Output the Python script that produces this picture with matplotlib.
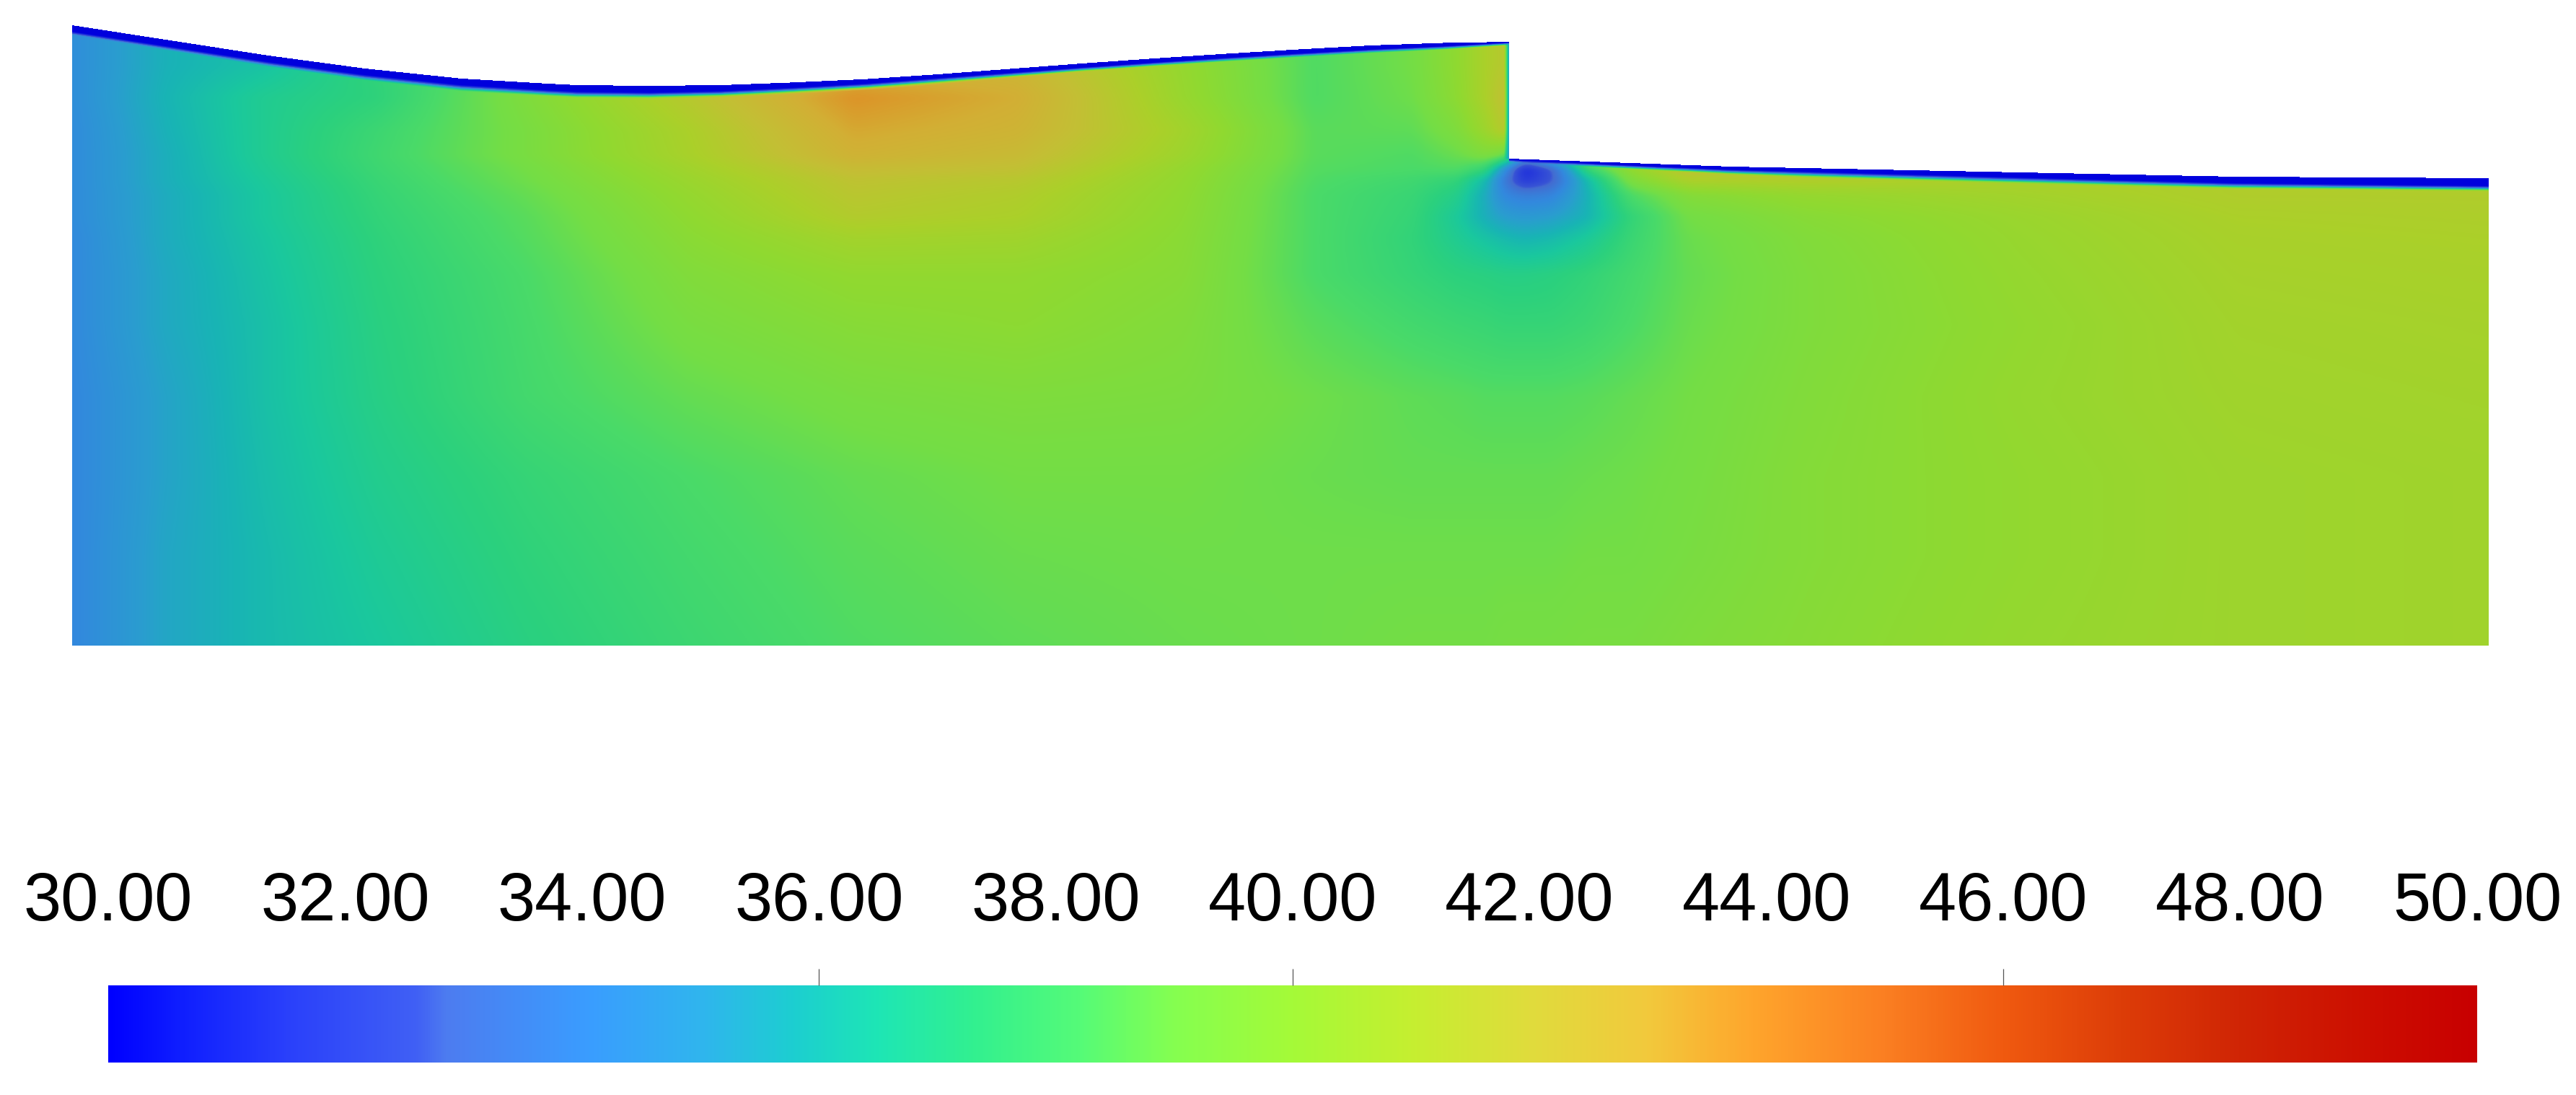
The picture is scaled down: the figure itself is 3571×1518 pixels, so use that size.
import numpy as np
import matplotlib
matplotlib.use("Agg")
import matplotlib.pyplot as plt
from matplotlib.colors import LinearSegmentedColormap, Normalize

plt.rcParams['font.family'] = ['Liberation Sans', 'DejaVu Sans']

W, H = 3571, 1518

# colour scale
scale_vals = [30, 30.6, 31.5, 32.6, 32.85, 34.05, 35, 35.8, 36.5, 37.3, 38.2, 39, 40, 41, 42, 43, 43.9, 45, 46, 47, 48, 49.2, 50]
scale_cols = ['#0000ff', '#0f1eff', '#2a40fb', '#4060f5', '#4d7cf0', '#3a9dff', '#30b5ee', '#1ccfd0', '#1ee6b5', '#32f090',
              '#55fb78', '#85ff50', '#a5fa38', '#c5ef30', '#e0dc3c', '#f2c93c', '#ffa52c', '#fb7f22', '#f05a10', '#dd3d08',
              '#d02505', '#cc0c00', '#c80000']
tick_labels = ['30.00', '32.00', '34.00', '36.00', '38.00', '40.00', '42.00', '44.00', '46.00', '48.00', '50.00']
tick_vals = [30, 32, 34, 36, 38, 40, 42, 44, 46, 48, 50]
minor_ticks = [36, 40, 46]

# top surface
surf_left_x = [100, 372, 506, 640, 760, 800, 900, 1000, 1100, 1200, 1300, 1500, 1600, 1700, 1800, 1900, 2000, 2092]
surf_left_y = [35, 77, 95, 109, 116, 118, 119, 118, 114.3, 109.7, 103, 88, 81, 74.5, 68.5, 63, 59.5, 58]
surf_right_x = [2092, 2400, 2500, 3000, 3100, 3450]
surf_right_y = [220, 231, 233, 243, 245, 247]
# wall layer
layer_left_x = [100, 640, 900, 1100, 1300, 1500, 1900, 2000, 2092]
layer_left_t = [8, 8, 8.5, 6.5, 4.5, 5, 5, 4, 0.5]
fade_left_w = [6, 10, 10, 10, 10, 7, 6, 6, 5]
layer_right_x = [2092, 2300, 2500, 2750, 3000, 3450]
layer_right_t = [1, 3, 4, 6, 7.5, 10]
fade_right_w = [4, 7, 10, 10, 10, 9]

# scalar field stations
st_x = [100, 228, 364, 524, 729, 956, 1184, 1412, 1640, 1822, 1958, 2020, 2060, 2085, 2113, 2150, 2200, 2260, 2340, 2500, 2800, 3100, 3450]
st_y = [30, 90, 135, 180, 215, 235, 250, 270, 300, 330, 380, 450, 550, 660, 770, 895]
row_030 = [34.3, 35.7, 36.3, 37.5, 39.0, 41.0, 42.5, 42.5, 39.8, 38.3, 39.0, 40.0, 41.0, 41.5, 41.5, 41.5, 41.5, 41.5, 41.5, 41.5, 41.5, 41.5, 41.5]
row_090 = [34.3, 35.7, 36.3, 37.5, 39.0, 41.0, 42.5, 42.5, 40.2, 38.3, 39.0, 40.0, 41.0, 41.5, 41.5, 41.5, 41.5, 41.5, 41.5, 41.5, 41.5, 41.5, 41.5]
row_135 = [34.3, 35.8, 36.8, 37.4, 39.4, 41.5, 43.8, 43.0, 40.3, 38.3, 38.9, 39.9, 41.0, 42.0, 41.5, 41.5, 41.5, 41.5, 41.5, 41.5, 41.5, 41.5, 41.5]
row_180 = [34.2, 35.7, 36.8, 37.8, 39.2, 41.0, 43.2, 42.7, 40.7, 38.5, 38.6, 39.4, 40.5, 41.5, 41.5, 41.5, 41.5, 41.5, 41.5, 41.5, 41.5, 41.5, 41.5]
row_215 = [34.2, 35.6, 36.8, 37.9, 39.2, 40.9, 42.8, 42.3, 40.5, 38.5, 38.3, 38.8, 39.4, 39.0, 35.0, 37.0, 39.5, 40.8, 41.8, 42.0, 41.3, 41.3, 41.3]
row_235 = [34.2, 35.6, 36.7, 37.8, 39.0, 40.6, 42.2, 41.9, 40.2, 38.4, 38.2, 38.3, 37.5, 34.5, 31.0, 32.5, 37.5, 40.0, 41.9, 41.6, 41.0, 41.5, 41.8]
row_250 = [34.2, 35.6, 36.6, 37.7, 38.9, 40.4, 41.8, 41.5, 40.1, 38.3, 37.9, 37.5, 36.0, 33.5, 31.5, 32.5, 36.0, 39.3, 41.0, 41.2, 41.0, 41.2, 41.3]
row_270 = [34.2, 35.5, 36.5, 37.6, 38.7, 40.2, 41.6, 41.2, 40.0, 38.2, 37.7, 37.0, 35.5, 34.0, 33.6, 33.8, 35.7, 38.2, 39.6, 40.2, 40.7, 41.2, 41.2]
row_300 = [34.2, 35.5, 36.5, 37.5, 38.5, 40.0, 41.3, 41.0, 39.9, 38.2, 37.6, 36.6, 35.6, 35.0, 34.8, 35.0, 35.8, 37.5, 39.0, 39.7, 40.4, 41.0, 41.1]
row_330 = [34.1, 35.5, 36.4, 37.4, 38.4, 39.8, 40.7, 40.6, 39.8, 38.2, 37.5, 36.8, 36.3, 36.0, 35.8, 36.0, 36.6, 37.7, 38.8, 39.5, 40.3, 40.9, 41.0]
row_380 = [34.1, 35.4, 36.3, 37.3, 38.2, 39.5, 40.1, 40.1, 39.7, 38.2, 37.6, 37.3, 37.2, 37.1, 37.1, 37.2, 37.5, 38.0, 38.7, 39.4, 40.2, 40.8, 40.9]
row_450 = [34.1, 35.4, 36.2, 37.2, 38.1, 39.2, 39.7, 39.9, 39.5, 38.5, 38.0, 37.8, 37.7, 37.6, 37.6, 37.6, 37.8, 38.2, 38.8, 39.4, 40.1, 40.7, 40.8]
row_550 = [34.0, 35.2, 36.2, 37.1, 38.0, 38.7, 39.2, 39.4, 39.3, 38.9, 38.6, 38.5, 38.4, 38.4, 38.4, 38.4, 38.5, 38.7, 39.0, 39.5, 40.2, 40.6, 40.7]
row_660 = [34.0, 35.2, 36.1, 36.9, 37.6, 38.2, 38.7, 39.0, 39.0, 38.8, 38.7, 38.7, 38.7, 38.7, 38.7, 38.7, 38.8, 38.9, 39.1, 39.6, 40.1, 40.5, 40.6]
row_770 = [34.0, 35.3, 36.0, 36.7, 37.4, 38.0, 38.5, 38.8, 38.9, 38.9, 38.9, 38.9, 38.9, 38.9, 38.9, 38.9, 39.0, 39.0, 39.2, 39.6, 40.1, 40.5, 40.6]
row_895 = [34.0, 35.3, 36.0, 36.5, 37.2, 37.8, 38.3, 38.6, 38.8, 38.9, 39.0, 39.0, 39.0, 39.1, 39.1, 39.1, 39.2, 39.2, 39.4, 39.7, 40.2, 40.5, 40.6]
field_rows = [row_030, row_090, row_135, row_180, row_215, row_235, row_250, row_270, row_300, row_330, row_380, row_450, row_550, row_660, row_770, row_895]

VMIN, VMAX = scale_vals[0], scale_vals[-1]
pos = [(v - VMIN) / (VMAX - VMIN) for v in scale_vals]
cmap_bar = LinearSegmentedColormap.from_list('bar', list(zip(pos, scale_cols)), N=1024)
dim = 0.87
lut = cmap_bar(np.linspace(0, 1, 1024))
lut[:, :3] *= dim
cmap_field = LinearSegmentedColormap.from_list('field', lut, N=1024)
cmap_field.set_bad((1, 1, 1, 0))
norm = Normalize(VMIN, VMAX)

X0, X1, XS = 100, 3450, 2092
Y0, Y1 = 30, 895
xs = np.arange(X0, X1) + 0.5
ys = np.arange(Y0, Y1) + 0.5
F = np.array(field_rows)
col = np.array([np.interp(ys, st_y, F[:, j]) for j in range(F.shape[1])])
V = np.array([np.interp(xs, st_x, col[:, i]) for i in range(len(ys))])


def blur(a, n, axis):
    k = np.ones(n) / n
    pad = [(0, 0), (0, 0)]
    pad[axis] = (n // 2, n - 1 - n // 2)
    b = np.pad(a, pad, mode='edge')
    return np.apply_along_axis(lambda m: np.convolve(m, k, mode='valid'), axis, b)


for _ in range(2):
    V = blur(V, 17, 1)
    V = blur(V, 9, 0)

left = xs < XS
surf = np.where(left, np.interp(xs, surf_left_x, surf_left_y), np.interp(xs, surf_right_x, surf_right_y))
thick = np.where(left, np.interp(xs, layer_left_x, layer_left_t), np.interp(xs, layer_right_x, layer_right_t))
fade = np.where(left, np.interp(xs, layer_left_x, fade_left_w), np.interp(xs, layer_right_x, fade_right_w))
XX, YY = np.meshgrid(xs, ys)
d = YY - surf[None, :]
u = np.clip((d - thick[None, :]) / fade[None, :], 0, 1)
u = u * u * (3 - 2 * u)
V = VMIN + (V - VMIN) * u
# vertical wall layer on the step
wd = XS - XX
wm = (XX < XS) & (YY < surf_right_y[0])
wu = np.clip(wd / 7, 0, 1)
V = np.where(wm, np.minimum(V, 35 + (V - 35) * wu), V)
V = np.ma.masked_where(np.floor(d) < 0, V)

fig = plt.figure(figsize=(W / 100, H / 100), dpi=100, facecolor='white')
ax = fig.add_axes([0, 0, 1, 1])
ax.axis('off')
ax.imshow(V, extent=(X0, X1, Y1, Y0), cmap=cmap_field, norm=norm, interpolation='nearest', aspect='auto')

BX0, BX1, BY0, BY1 = 150, 3434, 1366, 1473
grad = np.linspace(VMIN, VMAX, 2048)[None, :]
ax.imshow(grad, extent=(BX0, BX1, BY1, BY0), cmap=cmap_bar, norm=norm, interpolation='nearest', aspect='auto')
ax.set_xlim(0, W)
ax.set_ylim(H, 0)
to_x = lambda v: BX0 + (v - VMIN) / (VMAX - VMIN) * (BX1 - BX0)
for v in minor_ticks:
    ax.plot([to_x(v)] * 2, [1343, BY0], color='#555555', lw=0.9, solid_capstyle='butt')
for v, s in zip(tick_vals, tick_labels):
    ax.text(to_x(v), 1276, s, ha='center', va='baseline', fontsize=67.5, color='black')

fig.savefig('out.png', dpi=100, facecolor='white')
